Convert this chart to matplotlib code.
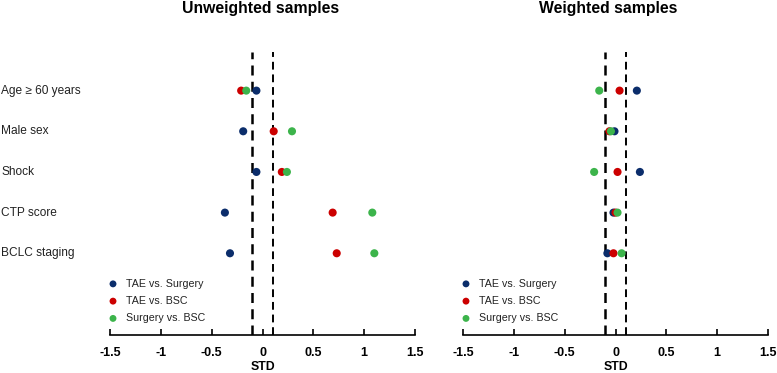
import numpy as np
import matplotlib.pyplot as plt
from matplotlib.transforms import blended_transform_factory

plt.rcParams['font.family'] = ['Liberation Sans', 'DejaVu Sans']

variables = ["Age \u2265 60 years", "Male sex", "Shock", "CTP score", "BCLC staging"]
series = ["TAE vs. Surgery", "TAE vs. BSC", "Surgery vs. BSC"]
colors = ["#0b2d6b", "#cc0000", "#3cb44b"]

# standardized differences, rows follow `variables`
unweighted = {
    "TAE vs. Surgery": [-0.06, -0.19, -0.06, -0.37, -0.32],
    "TAE vs. BSC": [-0.21, 0.11, 0.19, 0.69, 0.73],
    "Surgery vs. BSC": [-0.16, 0.29, 0.24, 1.08, 1.10],
}
weighted = {
    "TAE vs. Surgery": [0.21, -0.01, 0.24, -0.02, -0.08],
    "TAE vs. BSC": [0.04, -0.06, 0.02, 0.00, -0.02],
    "Surgery vs. BSC": [-0.16, -0.045, -0.21, 0.02, 0.06],
}
xticks = [-1.5, -1, -0.5, 0, 0.5, 1, 1.5]
xticklabels = ["-1.5", "-1", "-0.5", "0", "0.5", "1", "1.5"]
threshold = 0.1

fig = plt.figure(figsize=(7.77, 3.73), dpi=100)
ax1 = fig.add_axes([0.1416, 0.1019, 0.3925, 0.7587])
ax2 = fig.add_axes([0.5959, 0.1019, 0.3925, 0.7587])

ypos = np.arange(len(variables))

for ax, data, title, tx in [(ax1, unweighted, "Unweighted samples", 0.495),
                            (ax2, weighted, "Weighted samples", 0.475)]:
    ax.axvline(-threshold, color="black", ls=(0, (4, 2.5)), lw=1.8, zorder=1)
    ax.axvline(threshold, color="black", ls=(0, (4, 2.5)), lw=1.4, zorder=1)
    for name, c in zip(series, colors):
        ax.scatter(data[name], ypos, s=34, color=c, label=name, zorder=3,
                   edgecolors="none")
    ax.set_xlim(-1.5, 1.5)
    ax.set_ylim(6.01, -0.95)
    ax.set_xticks(xticks)
    ax.set_xticklabels(xticklabels, fontweight="bold", fontsize=9)
    ax.tick_params(axis="x", direction="in", length=4, width=1.2, pad=9)
    ax.set_xlabel("STD", fontweight="bold", fontsize=8.8, labelpad=1)
    for s in ["top", "right", "left"]:
        ax.spines[s].set_visible(False)
    ax.spines["bottom"].set_linewidth(1.2)
    ax.set_yticks([])
    ax.set_title(title, fontweight="bold", fontsize=11.3, pad=28, x=tx)
    ax.legend(loc="upper left", bbox_to_anchor=(-0.009, 0.199), frameon=False,
              fontsize=7.7, markerscale=0.85, handletextpad=0.67,
              labelspacing=0.68, borderaxespad=0, handlelength=1.07,
              borderpad=0, labelcolor="#222222")

trans = blended_transform_factory(fig.transFigure, ax1.transData)
for y, v in zip(ypos, variables):
    ax1.text(1 / 777, y, v, transform=trans,
             ha="left", va="center", fontsize=8.6, color="#222222")

fig.savefig("out.png", dpi=100)
